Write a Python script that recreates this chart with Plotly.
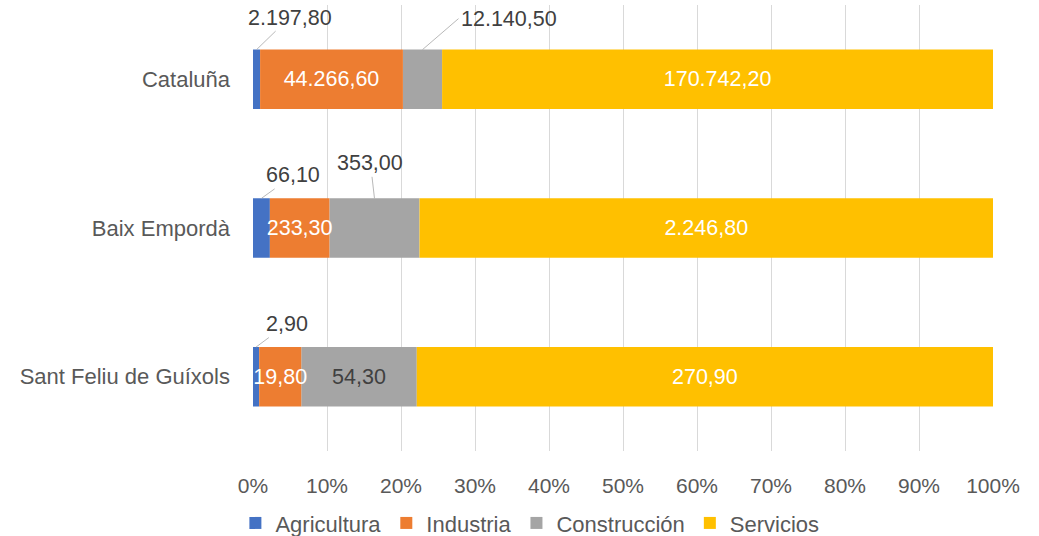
import plotly.graph_objects as go

# datos
zonas = ["Cataluña", "Baix Empordà", "Sant Feliu de Guíxols"]
agricultura = [2197.80, 66.10, 2.90]
industria = [44266.60, 233.30, 19.80]
construccion = [12140.50, 353.00, 54.30]
servicios = [170742.20, 2246.80, 270.90]
ticks_x = ["0%", "10%", "20%", "30%", "40%", "50%", "60%", "70%", "80%", "90%", "100%"]


def fmt(v):
    # formato español: punto de miles, coma decimal
    s = "{:,.2f}".format(v)
    return s.replace(",", "X").replace(".", ",").replace("X", ".")


totales = [a + b + c + d for a, b, c, d in zip(agricultura, industria, construccion, servicios)]


def pct(serie):
    return [100 * v / t for v, t in zip(serie, totales)]


p_agr = pct(agricultura)
p_ind = pct(industria)
p_con = pct(construccion)
p_ser = pct(servicios)

# bases acumuladas (apilado manual para poder dibujar Industria encima)
base_agr = [0, 0, 0]
base_ind = p_agr
base_con = [a + b for a, b in zip(p_agr, p_ind)]
base_ser = [a + b for a, b in zip(base_con, p_con)]

FONT = "Liberation Sans, Arial, sans-serif"
FS = 21.5
# orden de dibujo: Industria al final para que sus etiquetas no queden tapadas
series = [
    ("Agricultura", p_agr, base_agr, "#4472C4", ["", "", ""], "white", 1),
    ("Construcción", p_con, base_con, "#A5A5A5", ["", "", fmt(construccion[2])], "#404040", 3),
    ("Servicios", p_ser, base_ser, "#FFC000", [fmt(v) for v in servicios], "white", 4),
    ("Industria", p_ind, base_ind, "#ED7D31", [fmt(v) for v in industria], "white", 2),
]

fig = go.Figure()
for nombre, vals, base, color, textos, tcolor, rank in series:
    fig.add_trace(go.Bar(
        y=zonas,
        x=vals,
        base=base,
        name=nombre,
        legendrank=rank,
        orientation="h",
        marker=dict(color=color, line=dict(width=0)),
        text=textos,
        textposition="inside",
        insidetextanchor="middle",
        textangle=0,
        textfont=dict(color=tcolor, size=FS, family=FONT),
        hoverinfo="skip",
    ))

# etiquetas exteriores con líneas guía
etiquetas = [
    (p_agr[0] / 2, 0, agricultura[0], 33, -32, "center"),
    (base_con[0] + p_con[0] / 2, 0, construccion[0], 36, -31, "left"),
    (p_agr[1] / 2, 1, agricultura[1], 32, -23, "center"),
    (base_con[1] + p_con[1] / 2, 1, construccion[1], -4, -35, "center"),
    (p_agr[2] / 2, 2, agricultura[2], 31, -23, "center"),
]
for xv, yi, v, ax, ay, xa in etiquetas:
    fig.add_annotation(
        x=xv, y=yi - 0.2, xref="x", yref="y",
        text=fmt(v), showarrow=True, arrowhead=0, arrowwidth=0.8,
        arrowcolor="#A6A6A6", ax=ax, ay=ay, xanchor=xa,
        font=dict(size=FS, color="#404040", family=FONT),
    )

fig.update_layout(
    barmode="overlay",
    bargap=0.6,
    width=1039, height=536,
    margin=dict(l=253, r=46, t=5, b=80),
    plot_bgcolor="white",
    paper_bgcolor="white",
    font=dict(family=FONT, size=FS, color="#595959"),
    uniformtext=dict(minsize=FS, mode="show"),
    showlegend=True,
    legend=dict(
        orientation="h", x=0.51, xanchor="center", xref="container",
        y=0.024, yanchor="middle", yref="container",
        font=dict(size=22, color="#595959"),
        itemwidth=30,
    ),
    xaxis=dict(
        range=[0, 100], tickvals=list(range(0, 101, 10)), ticktext=ticks_x,
        showgrid=True, gridcolor="#D9D9D9", gridwidth=1,
        zeroline=False, showline=False,
        ticklabelstandoff=20,
        tickfont=dict(size=21, color="#595959"),
    ),
    yaxis=dict(
        autorange=False, range=[2.5, -0.5],
        categoryorder="array", categoryarray=zonas,
        showgrid=False, zeroline=False, showline=False,
        ticklabelstandoff=22,
        tickfont=dict(size=22, color="#595959"),
    ),
)

fig.write_html("out.html", config={"displayModeBar": False},
               post_script="document.body.style.margin='0';")
